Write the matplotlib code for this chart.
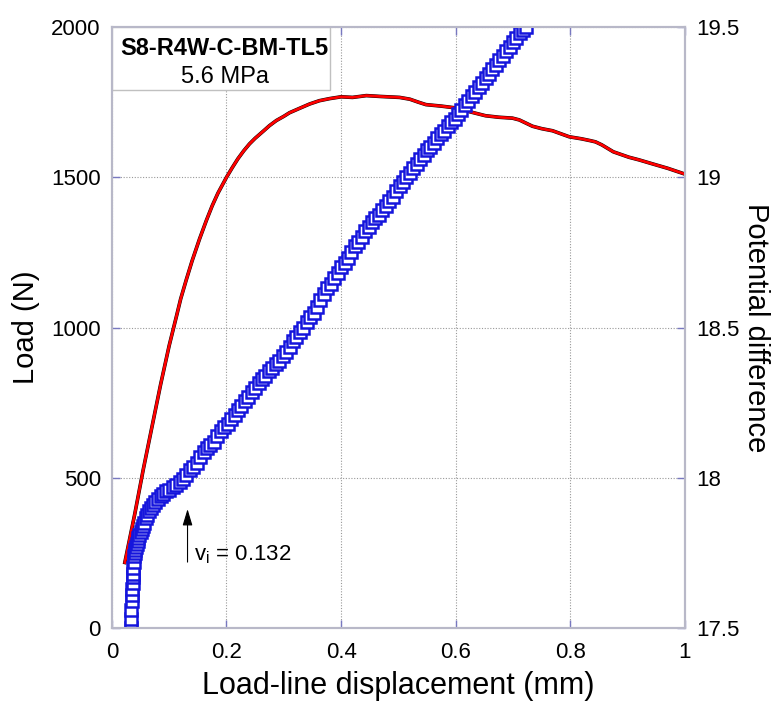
import numpy as np
import matplotlib.pyplot as plt

plt.rcParams['font.family'] = ['Liberation Sans', 'DejaVu Sans']
plt.rcParams['mathtext.fontset'] = 'custom'
plt.rcParams['mathtext.rm'] = 'Liberation Sans'

# Load vs load-line displacement (red line, left axis)
load_disp = [0.0226, 0.040, 0.0546, 0.070, 0.085, 0.100, 0.113, 0.120, 0.130,
             0.140, 0.153, 0.165, 0.175, 0.185, 0.200, 0.210, 0.220, 0.230,
             0.240, 0.250, 0.265, 0.275, 0.287, 0.300, 0.310, 0.328, 0.345,
             0.362, 0.380, 0.400, 0.420, 0.444, 0.470, 0.502, 0.520, 0.535,
             0.548, 0.575, 0.600, 0.625, 0.652, 0.675, 0.699, 0.711, 0.734,
             0.750, 0.769, 0.798, 0.820, 0.835, 0.844, 0.855, 0.875, 0.902,
             0.920, 0.943, 0.970, 0.998]
load_n = [218, 380, 526, 670, 810, 940, 1040, 1095, 1160,
          1222, 1295, 1357, 1405, 1447, 1500, 1532, 1562, 1588,
          1611, 1630, 1655, 1672, 1689, 1703, 1715, 1730, 1744,
          1755, 1762, 1768, 1766, 1772, 1769, 1766, 1760, 1750,
          1742, 1737, 1731, 1718, 1705, 1700, 1697, 1691, 1670,
          1662, 1655, 1635, 1628, 1622, 1618, 1608, 1585, 1567,
          1558, 1545, 1530, 1512]

# Potential difference vs displacement (blue squares, right axis)
pd_disp = [0.034, 0.034, 0.034, 0.035, 0.035, 0.035, 0.036, 0.036, 0.037, 0.037,
           0.038, 0.039, 0.040, 0.041, 0.042, 0.043, 0.045, 0.046, 0.048, 0.050,
           0.052, 0.054, 0.056, 0.059, 0.062, 0.065, 0.068, 0.072, 0.076, 0.080,
           0.085, 0.090, 0.095, 0.100, 0.106, 0.112, 0.118, 0.124, 0.130, 0.136,
           0.142, 0.148, 0.154, 0.160, 0.166, 0.172, 0.178, 0.184, 0.190, 0.196,
           0.202, 0.208, 0.214, 0.220, 0.226, 0.232, 0.238, 0.244, 0.250, 0.256,
           0.262, 0.268, 0.274, 0.280, 0.286, 0.292, 0.298, 0.304, 0.310, 0.316,
           0.322, 0.328, 0.334, 0.340, 0.346, 0.352, 0.358, 0.364, 0.370, 0.376,
           0.382, 0.388, 0.394, 0.400, 0.406, 0.412, 0.418, 0.424, 0.430, 0.436,
           0.442, 0.448, 0.454, 0.460, 0.466, 0.472, 0.478, 0.484, 0.490, 0.496,
           0.502, 0.508, 0.514, 0.520, 0.526, 0.532, 0.538, 0.544, 0.550, 0.556,
           0.562, 0.568, 0.574, 0.580, 0.586, 0.592, 0.598, 0.604, 0.610, 0.616,
           0.622, 0.628, 0.634, 0.640, 0.646, 0.652, 0.658, 0.664, 0.670, 0.676,
           0.682, 0.688, 0.694, 0.700, 0.706, 0.712, 0.718, 0.722]
pd_val = [17.50, 17.53, 17.56, 17.59, 17.61, 17.63, 17.65, 17.67, 17.68, 17.70,
          17.72, 17.74, 17.75, 17.76, 17.77, 17.78, 17.79, 17.80, 17.81, 17.82,
          17.83, 17.84, 17.85, 17.865, 17.875, 17.89, 17.90, 17.91, 17.92, 17.93,
          17.94, 17.945, 17.955, 17.96, 17.97, 17.975, 17.985, 17.995, 18.01, 18.025,
          18.035, 18.05, 18.07, 18.085, 18.10, 18.11, 18.12, 18.14, 18.155, 18.17,
          18.18, 18.195, 18.21, 18.225, 18.24, 18.255, 18.27, 18.285, 18.30, 18.315,
          18.33, 18.34, 18.355, 18.365, 18.38, 18.39, 18.405, 18.42, 18.435, 18.455,
          18.47, 18.485, 18.50, 18.52, 18.535, 18.55, 18.57, 18.59, 18.61, 18.63,
          18.645, 18.665, 18.68, 18.70, 18.715, 18.73, 18.75, 18.77, 18.785, 18.80,
          18.82, 18.835, 18.85, 18.865, 18.875, 18.89, 18.905, 18.92, 18.935, 18.955,
          18.97, 18.985, 19.00, 19.015, 19.03, 19.045, 19.06, 19.075, 19.09, 19.10,
          19.115, 19.13, 19.145, 19.155, 19.17, 19.185, 19.195, 19.21, 19.225, 19.24,
          19.255, 19.27, 19.285, 19.30, 19.315, 19.33, 19.345, 19.36, 19.375, 19.39,
          19.405, 19.42, 19.435, 19.45, 19.465, 19.48, 19.49, 19.50]

x_ticks = [0, 0.2, 0.4, 0.6, 0.8, 1]
x_tick_labels = ['0', '0.2', '0.4', '0.6', '0.8', '1']
load_ticks = [0, 500, 1000, 1500, 2000]
pd_ticks = [17.5, 18, 18.5, 19, 19.5]
pd_tick_labels = ['17.5', '18', '18.5', '19', '19.5']

specimen = 'S8-R4W-C-BM-TL5'
stress = '5.6 MPa'
vi = 0.132

spine_col = '#b8b8c8'
tick_col = '#7878c0'

fig = plt.figure(figsize=(7.77, 7.04), dpi=100)
ax = fig.add_axes([0.144, 0.108, 0.7375, 0.8535])
ax2 = ax.twinx()

ax.plot(load_disp, load_n, color='black', lw=2.6, zorder=2)
ax.plot(load_disp, load_n, color='red', lw=2.0, zorder=3)

ax2.plot(pd_disp, pd_val, linestyle='none', marker='s', markersize=8,
         markerfacecolor='white', markeredgecolor='#1515dc', markeredgewidth=1.8)

ax.set_xlim(0, 1)
ax.set_ylim(0, 2000)
ax2.set_ylim(17.5, 19.5)

ax.set_xticks(x_ticks)
ax.set_xticklabels(x_tick_labels)
ax.set_yticks(load_ticks)
ax2.set_yticks(pd_ticks)
ax2.set_yticklabels(pd_tick_labels)

ax.grid(True, color='#999999', linestyle=(0, (1, 1.5)), lw=0.8)
ax.set_axisbelow(True)

ax.tick_params(axis='both', direction='in', length=6, width=1, color=tick_col,
               labelsize=16, top=True)
ax.tick_params(axis='x', pad=10)
ax.tick_params(axis='y', pad=8)
ax2.tick_params(axis='y', direction='in', length=6, width=1, color=tick_col,
                labelsize=16, pad=8)

for a in (ax, ax2):
    for s in a.spines.values():
        s.set_color(spine_col)
        s.set_linewidth(1.5)

ax.set_xlabel('Load-line displacement (mm)', fontsize=22, labelpad=6)
ax.set_ylabel('Load (N)', fontsize=21, labelpad=8)
ax2.set_ylabel('Potential difference', fontsize=21, rotation=-90, labelpad=22)

# specimen label box in the upper left corner
ax.add_patch(plt.Rectangle((0, 0.895), 0.38, 0.105, transform=ax.transAxes,
                           facecolor='white', edgecolor='#c0c0c0', lw=1.0, zorder=4))
ax.text(0.197, 0.965, specimen, transform=ax.transAxes, ha='center', va='center',
        fontsize=17, fontweight='bold', zorder=5)
ax.text(0.197, 0.917, stress, transform=ax.transAxes, ha='center', va='center',
        fontsize=17, zorder=5)

ax.annotate('', xy=(vi, 405), xytext=(vi, 210),
            arrowprops=dict(arrowstyle='-|>,head_width=0.3,head_length=1.0',
                            color='black', lw=0.8))
ax.text(vi + 0.012, 243, r'v$_\mathregular{i}$ = %.3f' % vi, fontsize=16,
        ha='left', va='center')

plt.savefig('out.png', dpi=100)
